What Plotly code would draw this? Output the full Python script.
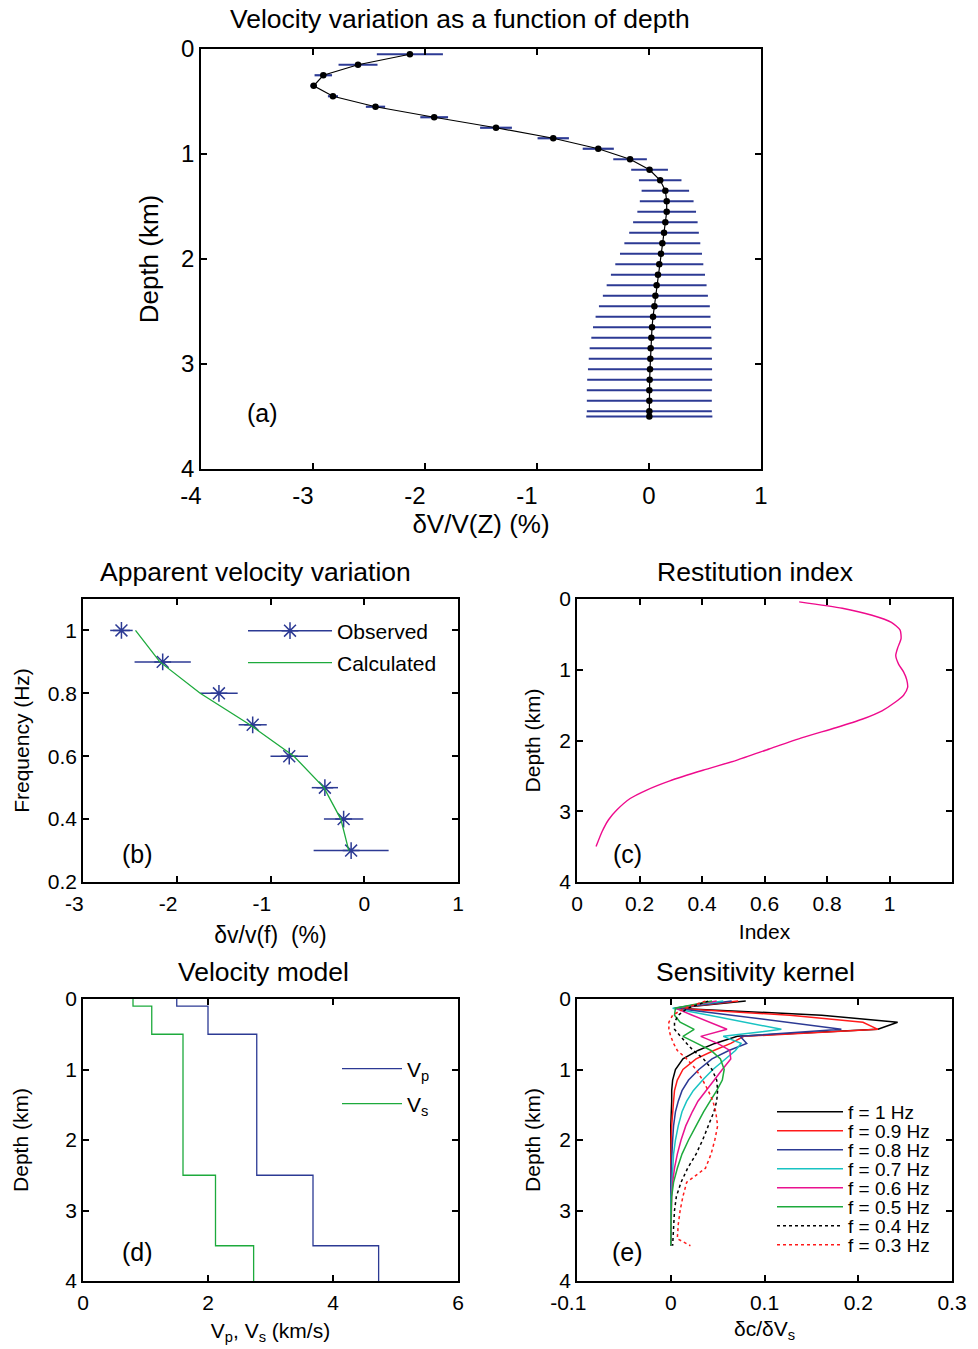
import plotly.graph_objects as go

# ---------------- data ----------------
# (a) velocity variation vs depth
depth_a = [0.05, 0.15, 0.25, 0.35, 0.45, 0.55, 0.65, 0.75, 0.85, 0.95, 1.05, 1.15,
           1.25, 1.35, 1.45, 1.55, 1.65, 1.75, 1.85, 1.95, 2.05, 2.15, 2.25, 2.35,
           2.45, 2.55, 2.65, 2.75, 2.85, 2.95, 3.05, 3.15, 3.25, 3.35, 3.45, 3.5]
dv_a = [-2.135, -2.598, -2.908, -2.994, -2.822, -2.442, -1.918, -1.366, -0.855, -0.453,
        -0.169, 0.005, 0.100, 0.146, 0.158, 0.158, 0.146, 0.134, 0.119, 0.107, 0.092,
        0.080, 0.068, 0.057, 0.048, 0.036, 0.027, 0.021, 0.015, 0.012, 0.009, 0.006,
        0.003, 0.003, 0.003, 0.003]
err_a = [0.295, 0.174, 0.078, 0.030, 0.045, 0.086, 0.124, 0.142, 0.140, 0.139, 0.150,
         0.164, 0.190, 0.212, 0.240, 0.262, 0.288, 0.311, 0.339, 0.366, 0.393, 0.420,
         0.446, 0.469, 0.495, 0.513, 0.527, 0.536, 0.545, 0.550, 0.554, 0.558, 0.558,
         0.558, 0.558, 0.563]

# (b) apparent velocity variation
freq_obs = [1.0, 0.9, 0.8, 0.7, 0.6, 0.5, 0.4, 0.3]
dv_obs = [-2.59, -2.15, -1.55, -1.19, -0.80, -0.42, -0.22, -0.14]
err_obs = [0.12, 0.30, 0.20, 0.15, 0.20, 0.14, 0.21, 0.40]
freq_calc = [1.0, 0.9, 0.8, 0.7, 0.6, 0.5, 0.4, 0.3]
dv_calc = [-2.44, -2.18, -1.75, -1.22, -0.75, -0.43, -0.25, -0.165]

# (c) restitution index
idx_c = [0.711, 0.849, 0.944, 1.006, 1.034, 1.037, 1.027, 1.020, 1.029, 1.045, 1.055,
         1.058, 1.045, 1.018, 0.976, 0.912, 0.828, 0.721, 0.615, 0.510, 0.403, 0.297,
         0.223, 0.170, 0.128, 0.101, 0.080, 0.061]
depth_c = [0.04, 0.13, 0.23, 0.33, 0.44, 0.56, 0.68, 0.80, 0.92, 1.03, 1.14, 1.25,
           1.36, 1.46, 1.58, 1.70, 1.82, 1.96, 2.12, 2.28, 2.42, 2.57, 2.70, 2.82,
           2.98, 3.12, 3.29, 3.50]

# (d) velocity model
layer_depth = [0.0, 0.1, 0.5, 2.5, 3.5, 4.0]
vp = [1.50, 2.00, 2.78, 3.68, 4.73, 4.73]
vs = [0.80, 1.10, 1.60, 2.12, 2.73, 2.73]

# (e) sensitivity kernels
depth_e = [0.03, 0.13, 0.23, 0.33, 0.43, 0.53, 0.63, 0.73, 0.85, 1.0, 1.15, 1.3,
           1.45, 1.6, 1.8, 2.0, 2.2, 2.4, 2.6, 2.8, 3.0, 3.2, 3.4, 3.5]
k10 = [0.080, 0.004, 0.161, 0.242, 0.221, 0.071, 0.047, 0.029, 0.013, 0.005, 0.002, 0.001,
       0.001, 0.0005, 0, 0, 0, 0, 0, 0, 0, 0, 0, 0]
k09 = [0.072, 0.004, 0.127, 0.205, 0.221, 0.078, 0.064, 0.046, 0.027, 0.013, 0.007, 0.004,
       0.003, 0.002, 0.001, 0.0005, 0, 0, 0, 0, 0, 0, 0, 0]
k08 = [0.065, 0.005, 0.065, 0.121, 0.182, 0.074, 0.081, 0.062, 0.044, 0.030, 0.019, 0.012,
       0.008, 0.005, 0.003, 0.002, 0.001, 0.0005, 0, 0, 0, 0, 0, 0]
k07 = [0.056, 0.002, 0.041, 0.080, 0.118, 0.056, 0.075, 0.069, 0.058, 0.045, 0.034, 0.024,
       0.017, 0.012, 0.008, 0.005, 0.003, 0.002, 0.001, 0.0005, 0, 0, 0, 0]
k06 = [0.049, 0.005, 0.023, 0.042, 0.060, 0.032, 0.050, 0.063, 0.064, 0.055, 0.046, 0.037,
       0.029, 0.023, 0.016, 0.011, 0.007, 0.004, 0.002, 0.001, 0.0005, 0, 0, 0]
k05 = [0.044, 0.005, 0.004, 0.010, 0.025, 0.013, 0.028, 0.043, 0.053, 0.057, 0.055, 0.049,
       0.042, 0.035, 0.027, 0.019, 0.012, 0.007, 0.003, 0.001, 0.0005, 0, 0, 0]
k04 = [0.040, 0.018, 0.008, 0.004, 0.004, 0.010, 0.017, 0.024, 0.035, 0.044, 0.049, 0.050,
       0.049, 0.046, 0.040, 0.034, 0.027, 0.018, 0.011, 0.006, 0.004, 0.003, 0.002, 0.002]
k03 = [0.037, 0.015, 0.002, -0.002, -0.002, 0.000, 0.003, 0.007, 0.017, 0.027, 0.034, 0.040,
       0.045, 0.048, 0.050, 0.047, 0.043, 0.037, 0.017, 0.013, 0.010, 0.008, 0.007, 0.021]
kernel_names = ["f = 1 Hz", "f = 0.9 Hz", "f = 0.8 Hz", "f = 0.7 Hz",
                "f = 0.6 Hz", "f = 0.5 Hz", "f = 0.4 Hz", "f = 0.3 Hz"]

# tick labels
ticks_a_x = [-4, -3, -2, -1, 0, 1]
ticks_a_x_txt = ["-4", "-3", "-2", "-1", "0", "1"]
ticks_depth = [0, 1, 2, 3, 4]
ticks_depth_txt = ["0", "1", "2", "3", "4"]
ticks_b_x = [-3, -2, -1, 0, 1]
ticks_b_x_txt = ["-3", "-2", "-1", "0", "1"]
ticks_b_y = [0.2, 0.4, 0.6, 0.8, 1.0]
ticks_b_y_txt = ["0.2", "0.4", "0.6", "0.8", "1"]
ticks_c_x = [0, 0.2, 0.4, 0.6, 0.8, 1.0]
ticks_c_x_txt = ["0", "0.2", "0.4", "0.6", "0.8", "1"]
ticks_d_x = [0, 2, 4, 6]
ticks_d_x_txt = ["0", "2", "4", "6"]
ticks_e_x = [-0.1, 0, 0.1, 0.2, 0.3]
ticks_e_x_txt = ["-0.1", "0", "0.1", "0.2", "0.3"]

# ---------------- styling ----------------
FONT = "Liberation Sans, Arial, Helvetica, sans-serif"
NAVY = "#2C3A94"
GREEN = "#1DAA3C"
MAGENTA = "#EE0A8C"
W, H = 978, 1349
NB = "\u00a0\u00a0\u00a0"  # pads negative labels so the digits sit as in the original


def pad_neg(labels):
    return [t + NB if t.startswith("-") else t for t in labels]


def xd(left, right):
    return [left / W, right / W]


def yd(top, bottom):
    return [1 - bottom / H, 1 - top / H]


def axis(domain, rng, tv, tt, anchor, title, tsize, lsize, standoff, is_x, lstand=2):
    d = dict(domain=domain, range=rng, tickvals=tv,
             ticktext=pad_neg(tt) if is_x else tt, anchor=anchor,
             showline=True, linecolor="black", linewidth=1.5, mirror="allticks",
             ticks="inside", ticklen=6, tickwidth=1.5, tickcolor="black",
             showgrid=False, zeroline=False, automargin=False,
             tickfont=dict(size=tsize, family=FONT, color="black"),
             title=dict(text=title, standoff=standoff,
                        font=dict(size=lsize, family=FONT, color="black")))
    if is_x:
        d["ticklabelstandoff"] = lstand
    return d


fig = go.Figure()

# (a)
fig.add_trace(go.Scatter(
    x=dv_a, y=depth_a, mode="lines+markers", showlegend=False,
    line=dict(color="black", width=1.2),
    marker=dict(color="black", size=6.5),
    error_x=dict(type="data", array=err_a, symmetric=True, width=0, thickness=2.2, color=NAVY),
    xaxis="x", yaxis="y"))

# (b) observed points: one isolated point per segment so no connecting line is drawn,
# while the legend still shows the line-with-star symbol of the original
obs_x, obs_y, obs_e = [], [], []
for v, f, e in zip(dv_obs, freq_obs, err_obs):
    obs_x += [v, None]
    obs_y += [f, None]
    obs_e += [e, 0]
fig.add_trace(go.Scatter(
    x=obs_x, y=obs_y, mode="lines+markers", name="Observed", legend="legend",
    connectgaps=False, line=dict(color=NAVY, width=1.5),
    marker=dict(symbol="asterisk-open", size=14, color=NAVY, line=dict(color=NAVY, width=1.5)),
    error_x=dict(type="data", array=obs_e, symmetric=True, width=0, thickness=1.5, color=NAVY),
    xaxis="x2", yaxis="y2"))
fig.add_trace(go.Scatter(
    x=dv_calc, y=freq_calc, mode="lines", name="Calculated", legend="legend2",
    line=dict(color=GREEN, width=1.3), xaxis="x2", yaxis="y2"))

# (c)
fig.add_trace(go.Scatter(
    x=idx_c, y=depth_c, mode="lines", showlegend=False,
    line=dict(color=MAGENTA, width=1.4, shape="spline", smoothing=0.6),
    xaxis="x3", yaxis="y3"))

# (d)
fig.add_trace(go.Scatter(
    x=vp, y=layer_depth, mode="lines", name="V<sub>p</sub>", legend="legend3",
    line=dict(color=NAVY, width=1.3, shape="vh"), xaxis="x4", yaxis="y4"))
fig.add_trace(go.Scatter(
    x=vs, y=layer_depth, mode="lines", name="V<sub>s</sub>", legend="legend4",
    line=dict(color=GREEN, width=1.3, shape="vh"), xaxis="x4", yaxis="y4"))

# (e)
kernels = [k10, k09, k08, k07, k06, k05, k04, k03]
kcolors = ["black", "#FF1A1A", NAVY, "#19C3C3", "#E9128F", GREEN, "black", "#FF1A1A"]
kdash = ["solid"] * 6 + ["dot", "dot"]
for i, (kv, name) in enumerate(zip(kernels, kernel_names)):
    fig.add_trace(go.Scatter(
        x=kv, y=depth_e, mode="lines", name=name, legend=f"legend{5 + i}",
        line=dict(color=kcolors[i], width=1.5, dash=kdash[i]),
        xaxis="x5", yaxis="y5"))

# ---------------- layout ----------------
A = dict(a=(xd(201, 761), yd(49, 469)),
         b=(xd(83, 458), yd(599, 882)),
         c=(xd(577, 952), yd(599, 882)),
         d=(xd(83, 458), yd(999, 1281)),
         e=(xd(577, 952), yd(999, 1281)))

layout = dict(
    width=W, height=H, margin=dict(l=0, r=0, t=0, b=0, autoexpand=False),
    paper_bgcolor="white", plot_bgcolor="white",
    font=dict(family=FONT, color="black"),
    xaxis=axis(A["a"][0], [-4, 1], ticks_a_x, ticks_a_x_txt, "y", "δV/V(Z) (%)", 24, 26, 6, True, 4),
    yaxis=axis(A["a"][1], [4, 0], ticks_depth, ticks_depth_txt, "x", "Depth (km)", 24, 26, 15, False),
    xaxis2=axis(A["b"][0], [-3, 1], ticks_b_x, ticks_b_x_txt, "y2", "δv/v(f)\u00a0 (%)", 21, 23, 13, True),
    yaxis2=axis(A["b"][1], [0.2, 1.1], ticks_b_y, ticks_b_y_txt, "x2", "Frequency (Hz)", 21, 21, 12, False),
    xaxis3=axis(A["c"][0], [0, 1.2], ticks_c_x, ticks_c_x_txt, "y3", "Index", 21, 21, 10, True),
    yaxis3=axis(A["c"][1], [4, 0], ticks_depth, ticks_depth_txt, "x3", "Depth (km)", 21, 21, 13, False),
    xaxis4=axis(A["d"][0], [0, 6], ticks_d_x, ticks_d_x_txt, "y4", "V<sub>p</sub>, V<sub>s</sub> (km/s)", 21, 21, 10, True),
    yaxis4=axis(A["d"][1], [4, 0], ticks_depth, ticks_depth_txt, "x4", "Depth (km)", 21, 21, 31, False),
    xaxis5=axis(A["e"][0], [-0.1, 0.3], ticks_e_x, ticks_e_x_txt, "y5", "δc/δV<sub>s</sub>", 21, 21, 8, True),
    yaxis5=axis(A["e"][1], [4, 0], ticks_depth, ticks_depth_txt, "x5", "Depth (km)", 21, 21, 13, False),
)


def leg(text_x, y_center, size, iw):
    return dict(x=(text_x - iw - 10) / W, y=1 - y_center / H, xanchor="left", yanchor="middle",
                bgcolor="rgba(0,0,0,0)", borderwidth=0, itemwidth=iw,
                font=dict(size=size, family=FONT, color="black"))


layout["legend"] = leg(337, 631, 21, 84)
layout["legend2"] = leg(337, 663, 21, 84)
layout["legend3"] = leg(407, 1069, 21, 60)
layout["legend4"] = leg(407, 1104, 21, 60)
for i in range(8):
    layout[f"legend{5 + i}"] = leg(848, 1112 + 19 * i, 19, 66)

titles = [("x", "y", "Velocity variation as a function of depth", 0.4625, 30),
          ("x2", "y2", "Apparent velocity variation", 0.461, 27),
          ("x3", "y3", "Restitution index", 0.4747, 27),
          ("x4", "y4", "Velocity model", 0.481, 27),
          ("x5", "y5", "Sensitivity kernel", 0.4747, 27)]
ann = []
for xa, ya, t, px, sh in titles:
    ann.append(dict(text=t, xref=f"{xa} domain", yref=f"{ya} domain", x=px, y=1,
                    xanchor="center", yanchor="middle", yshift=sh, showarrow=False,
                    font=dict(size=26.5, family=FONT, color="black")))

letters = [("x", "y", "(a)", 0.109, 0.133),
           ("x2", "y2", "(b)", 0.145, 0.098),
           ("x3", "y3", "(c)", 0.135, 0.098),
           ("x4", "y4", "(d)", 0.145, 0.103),
           ("x5", "y5", "(e)", 0.135, 0.103)]
for xa, ya, t, px, py in letters:
    ann.append(dict(text=t, xref=f"{xa} domain", yref=f"{ya} domain", x=px, y=py,
                    xanchor="center", yanchor="middle", showarrow=False,
                    font=dict(size=25, family=FONT, color="black")))
layout["annotations"] = ann

fig.update_layout(**layout)

fig.write_html("out.html", config={"displayModeBar": False},
               post_script="document.body.style.margin='0';")
